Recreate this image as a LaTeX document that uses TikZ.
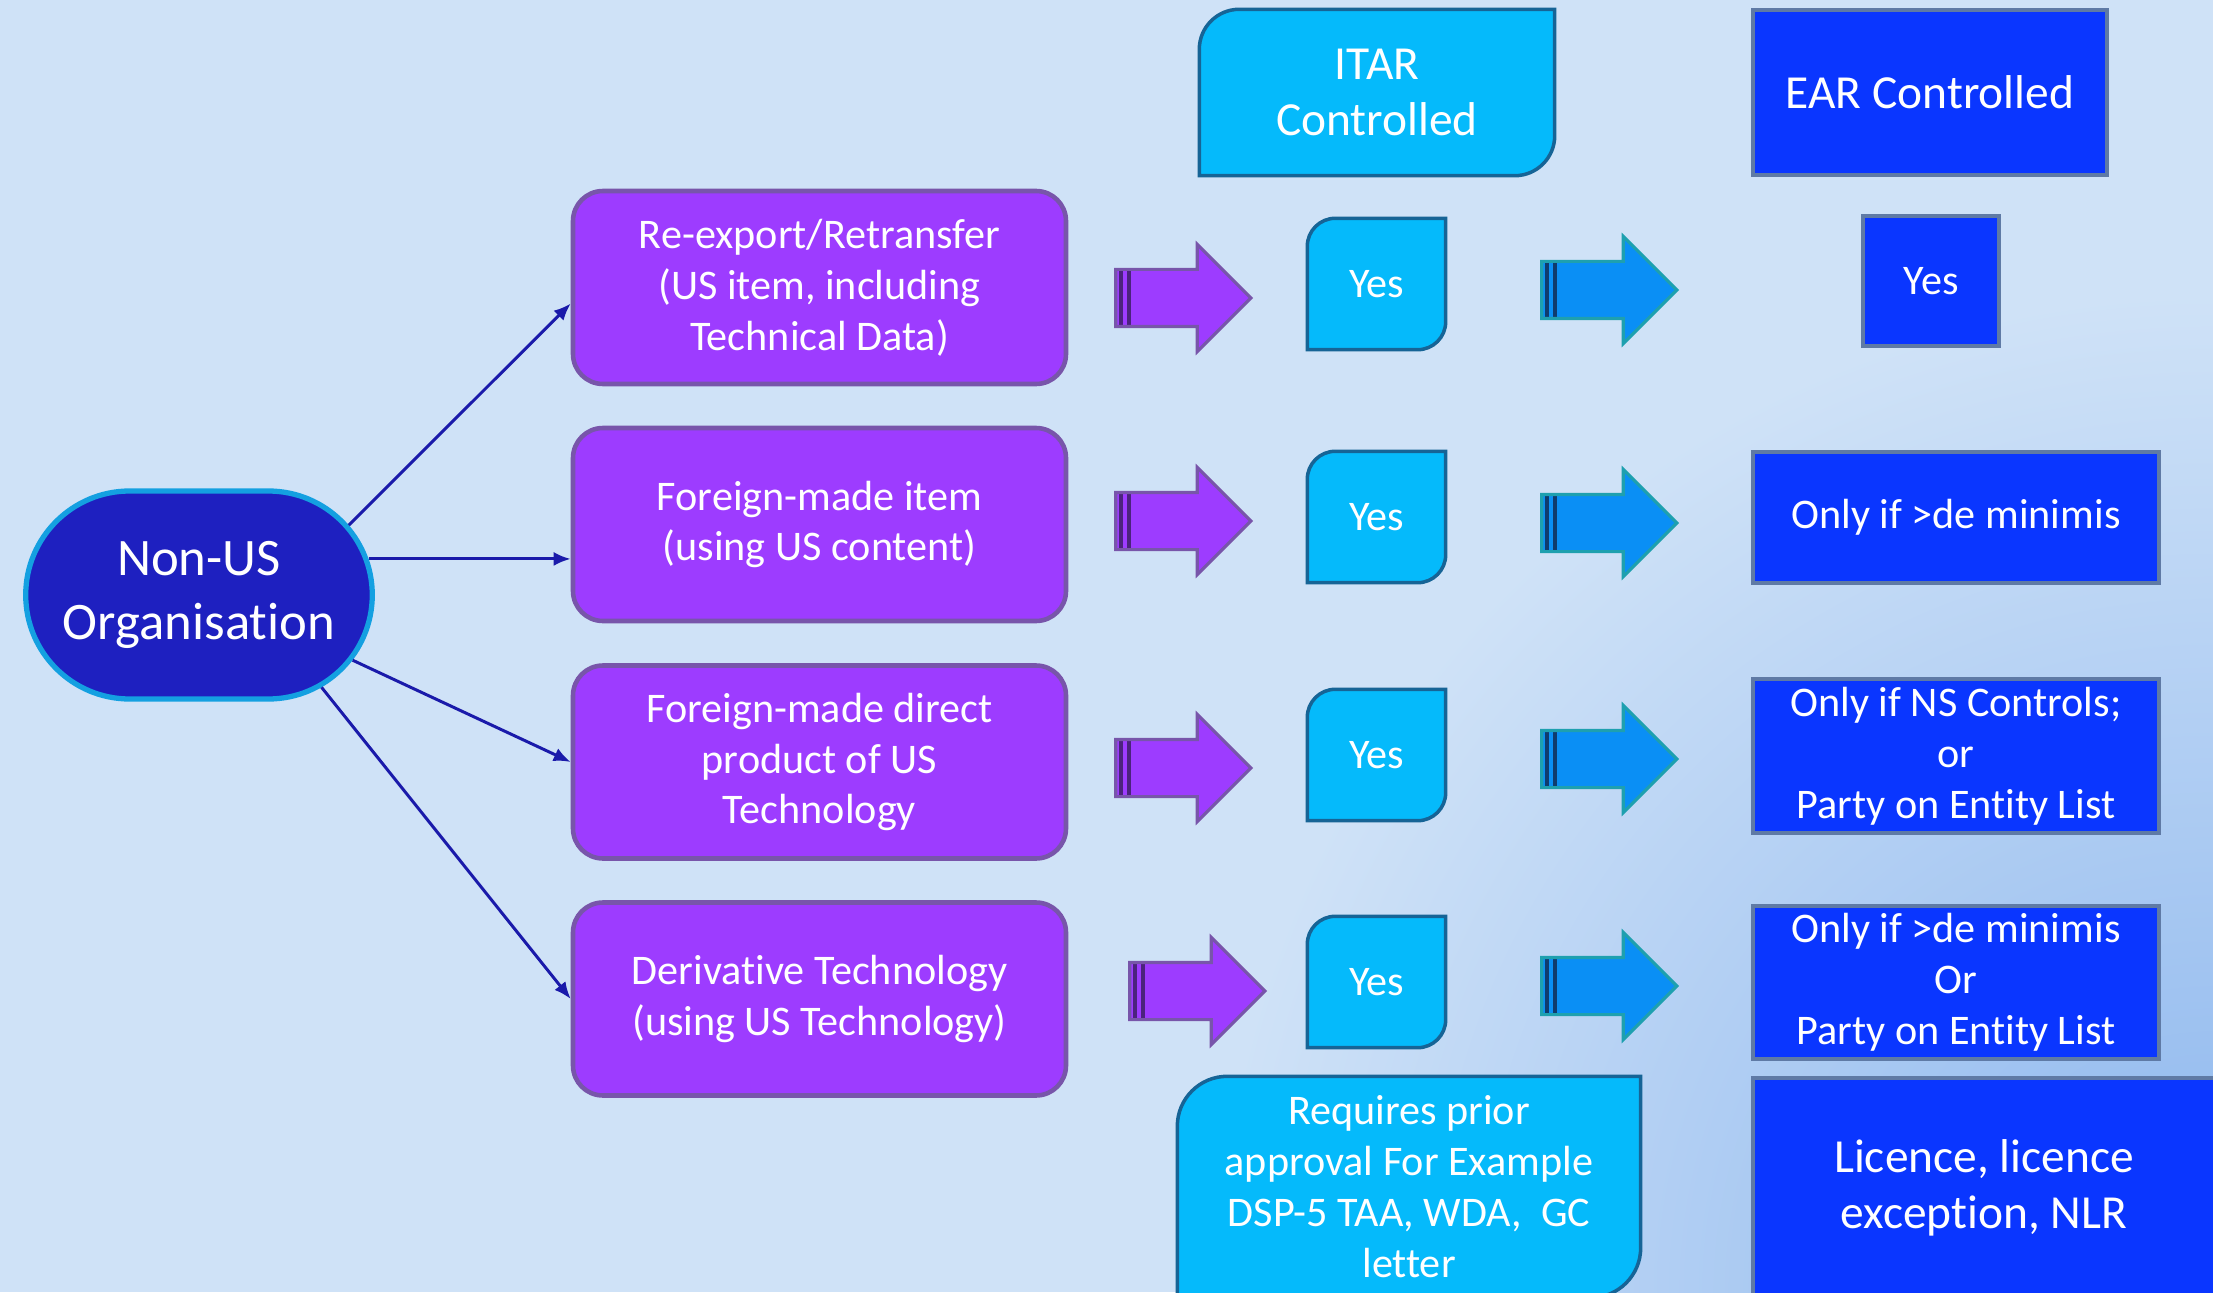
\documentclass[tikz,border=0pt]{standalone}
\usepackage{fontspec}
\setmainfont[Ligatures=NoCommon]{Carlito}
\usetikzlibrary{arrows.meta, calc, shapes.misc, shapes.arrows, backgrounds}

\definecolor{pagebg}{RGB}{207,226,247}
\definecolor{pagedeep}{RGB}{140,182,238}
\definecolor{orgblue}{RGB}{30,32,192}
\definecolor{orgrim}{RGB}{20,160,225}
\definecolor{linkblue}{RGB}{26,26,170}
\definecolor{boxpurple}{RGB}{157,60,255}
\definecolor{purplerim}{RGB}{120,85,170}
\definecolor{stripepurple}{RGB}{75,35,125}
\definecolor{itarcyan}{RGB}{5,186,251}
\definecolor{itarrim}{RGB}{22,100,150}
\definecolor{earblue}{RGB}{10,54,255}
\definecolor{earrim}{RGB}{95,122,165}
\definecolor{arrowblue}{RGB}{10,143,245}
\definecolor{arrowrim}{RGB}{30,160,175}
\definecolor{stripeblue}{RGB}{15,60,110}

\newcommand{\itarcorners}[2]{%
  \filldraw[itarfill] (#1.north east) -- ($(#1.south east)+(0,#2)$)
    arc[start angle=0, end angle=-90, radius=#2] -- (#1.south west)
    -- ($(#1.north west)-(0,#2)$) arc[start angle=180, end angle=90, radius=#2] -- cycle;}

\begin{document}
\begin{tikzpicture}[
  orgbox/.style={rounded rectangle, fill=orgblue, draw=orgrim, line width=1.5pt,
    text=white, align=center, minimum width=3.7cm, minimum height=2.08cm,
    font=\fontsize{15}{18}\selectfont},
  casebox/.style={rectangle, rounded corners=0.3cm, fill=boxpurple, draw=purplerim,
    line width=1.3pt, text=white, align=center, minimum width=4.93cm,
    minimum height=1.93cm, font=\fontsize{12}{14.5}\selectfont},
  itartext/.style={text=white, align=center, inner sep=0pt},
  itarfill/.style={fill=itarcyan, draw=itarrim, line width=1pt},
  earbox/.style={rectangle, fill=earblue, draw=earrim, line width=1.2pt,
    text=white, align=center, inner sep=0pt},
  earwide/.style={earbox, minimum width=4.06cm, font=\fontsize{12}{14.5}\selectfont},
  yesbox/.style={minimum width=1.37cm, minimum height=1.3cm, font=\fontsize{12}{14.5}\selectfont},
  link/.style={draw=linkblue, line width=0.85pt, -{Latex[length=0.17cm, width=0.14cm]}},
  fatarrow/.style={single arrow, single arrow head extend=0.25cm, minimum height=1.35cm,
    inner xsep=0pt, inner ysep=0.27cm, line width=0.9pt,
    path picture={\foreach \s in {0.05cm,0.13cm}
      \draw[#1, line width=1.1pt] ([xshift=\s]path picture bounding box.south west)
        -- ([xshift=\s]path picture bounding box.north west);}},
  purplearrow/.style={fatarrow=stripepurple, fill=boxpurple, draw=purplerim},
  bluearrow/.style={fatarrow=stripeblue, fill=arrowblue, draw=arrowrim}]

  \useasboundingbox (0,0) rectangle (22.13,12.92);
  \begin{scope}[on background layer]
    \fill[pagebg] (0,0) rectangle (22.13,12.92);
    \shade[inner color=pagedeep, outer color=pagebg] (22.13,0) circle (10);
  \end{scope}

  \node[orgbox] (org) at (1.99,6.97) {Non-US\\Organisation};

  \node[casebox] (re) at (8.195,10.045) {Re-export/Retransfer\\(US item, including\\Technical Data)};
  \node[casebox] (fm) at (8.195,7.675) {Foreign-made item\\(using US content)};
  \node[casebox] (dp) at (8.195,5.30) {Foreign-made direct\\product of US\\Technology};
  \node[casebox] (dt) at (8.195,2.93) {Derivative Technology\\(using US Technology)};

  \draw[link] (org.25) -- ([yshift=-0.16cm]re.west);
  \draw[link] (org.12) -- (org.12 -| fm.west);
  \draw[link] (org.-23) -- (dp.west);
  \draw[link] (org.-37) -- (dt.west);

  \node[itartext, minimum width=3.54cm, minimum height=1.65cm,
    font=\fontsize{13.5}{16}\selectfont] (itar) at (13.77,11.995) {ITAR\\Controlled};
  \node[earbox, minimum width=3.54cm, minimum height=1.65cm,
    font=\fontsize{13.5}{16}\selectfont] (ear) at (19.30,11.995) {EAR Controlled};

  \foreach \n/\y in {1/10.08, 2/7.75, 3/5.37, 4/3.10}
    \node[itartext, yesbox] (iy\n) at (13.765,\y) {Yes};

  \foreach \n/\x/\y in {1/11.69/9.94, 2/11.69/7.71, 3/11.69/5.24, 4/11.83/3.01}
    \node[purplearrow] (pa\n) at (\x,\y) {};
  \foreach \n/\y in {1/10.02, 2/7.69, 3/5.33, 4/3.06}
    \node[bluearrow] (ba\n) at (15.95,\y) {};

  \node[earbox, yesbox, minimum width=1.36cm] (ey1) at (19.31,10.11) {Yes};
  \node[earwide, minimum height=1.31cm] (ey2) at (19.56,7.745) {Only if >de minimis};
  \node[earwide, minimum height=1.54cm] (ey3) at (19.56,5.36) {Only if NS Controls;\\or\\Party on Entity List};
  \node[earwide, minimum height=1.53cm] (ey4) at (19.56,3.095) {Only if >de minimis\\Or\\Party on Entity List};

  \node[itartext, minimum width=4.62cm, minimum height=2.2cm,
    font=\fontsize{12}{14.5}\selectfont] (prior) at (14.09,1.05)
    {Requires prior\\approval For Example\\DSP-5 TAA, WDA, \ GC\\letter};
  \node[earbox, minimum width=4.62cm, minimum height=2.2cm,
    font=\fontsize{13.5}{16}\selectfont] (lic) at (19.84,1.04) {Licence, licence\\exception, NLR};

  \begin{scope}[on background layer]
    \itarcorners{itar}{0.4}
    \foreach \n in {1,...,4} {\itarcorners{iy\n}{0.28}}
    \itarcorners{prior}{0.5}
  \end{scope}
\end{tikzpicture}
\end{document}
